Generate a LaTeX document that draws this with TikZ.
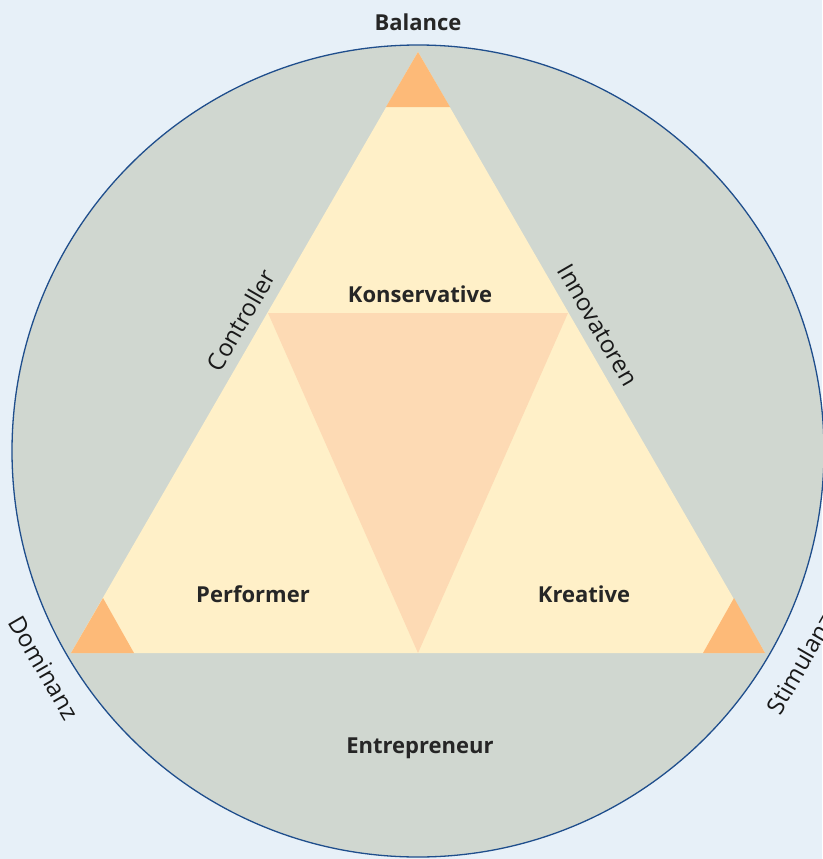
\documentclass[tikz,border=0pt]{standalone}
\usepackage{fontspec}
\setmainfont{Open Sans}
\definecolor{bgblue}{HTML}{E7F0F8}
\definecolor{ringgray}{HTML}{D0D7D0}
\definecolor{ringline}{HTML}{1F4E8C}
\definecolor{triyellow}{HTML}{FFF0C8}
\definecolor{tripeach}{HTML}{FDDAB4}
\definecolor{tiporange}{HTML}{FDBA78}
\begin{document}
\begin{tikzpicture}[x=1pt, y=-1pt, inner sep=0pt,
  type label/.style={font=\fontsize{22}{26}\selectfont\bfseries, text=black!85},
  axis label/.style={font=\fontsize{24}{28}\selectfont, text=black!90}]
\fill[bgblue] (0,0) rectangle (822,859);
\useasboundingbox (0,0) rectangle (822,859);
% ring
\coordinate (c) at (418,451);
\fill[ringgray] (c) circle[radius=406];
\draw[ringline, line width=1.3pt] (c) circle[radius=406];
% big triangle
\coordinate (top) at (418,52);
\coordinate (left) at (71,653);
\coordinate (right) at (765,653);
\fill[triyellow] (top) -- (left) -- (right) -- cycle;
% inner triangle
\coordinate (il) at (268,313);
\coordinate (ir) at (568,313);
\coordinate (ib) at (418,653);
\fill[tripeach] (il) -- (ir) -- (ib) -- cycle;
% corner tips
\fill[tiporange] (top) -- (386,107) -- (450,107) -- cycle;
\fill[tiporange] (left) -- (103,598) -- (134,653) -- cycle;
\fill[tiporange] (right) -- (734,598) -- (703,653) -- cycle;
\begin{scope}[every node/.style={type label}]
\node (kons) at (420,294) {Konservative};
\node (perf) at (253,594) {Performer};
\node (krea) at (584,594) {Kreative};
\node (entr) at (420,748) {Entrepreneur};
\node (bal) at (418,22) {Balance};
\end{scope}
\begin{scope}[every node/.style={axis label}]
\node[rotate=60] (contr) at (241,320) {Controller};
\node[rotate=-60] (innov) at (598,325) {Innovatoren};
\node[rotate=-60] (domi) at (44,668) {Dominanz};
\node[rotate=60] (stim) at (800,664) {Stimulanz};
\end{scope}
\end{tikzpicture}
\end{document}
